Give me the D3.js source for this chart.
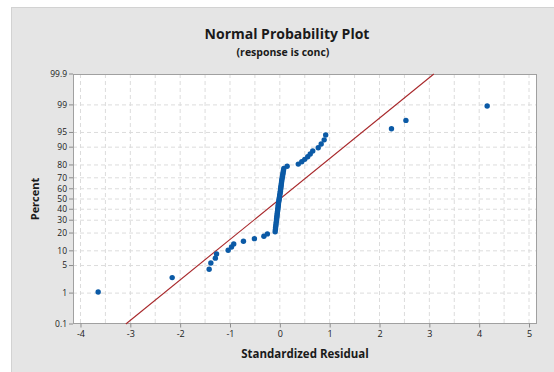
<!DOCTYPE html>
<html>
<head>
<meta charset="utf-8">
<script src="https://cdn.jsdelivr.net/npm/d3@7"></script>
<style>
  body{margin:0;background:#fff;}
  svg{display:block;font-family:"Open Sans",sans-serif;}
</style>
</head>
<body>
<script>
// standardized residuals, sorted
var residuals=[-3.645,-2.16,-1.418,-1.384,-1.294,-1.27,-1.037,-0.97,-0.925,-0.73,-0.51,-0.32,-0.25,
  -0.094,-0.089,-0.085,-0.080,-0.076,-0.071,-0.067,-0.063,-0.059,-0.055,-0.051,-0.047,-0.043,-0.039,
  -0.035,-0.031,-0.028,-0.023,-0.018,-0.013,-0.008,-0.004,0.001,0.007,0.011,0.015,0.019,0.023,0.028,
  0.032,0.036,0.040,0.047,0.053,0.060,0.066,0.073,0.080,
  0.147,0.37,0.44,0.50,0.56,0.61,0.66,0.77,0.83,0.89,0.92,2.24,2.53,4.16];
// plotting percents for each point
var percents=[1.07,2.60,4.13,5.66,7.19,8.72,10.24,11.77,13.30,14.83,16.36,17.89,19.42,20.95,22.48,
  24.01,25.54,27.06,28.59,30.12,31.65,33.18,34.71,36.24,37.77,39.30,40.83,42.35,43.88,45.41,46.94,
  48.47,50.00,51.53,53.06,54.59,56.12,57.65,59.17,60.70,62.23,63.76,65.29,66.82,68.35,69.88,71.41,
  72.94,74.46,75.99,77.52,79.05,80.58,82.11,83.64,85.17,86.70,88.23,89.76,91.28,92.81,94.34,95.87,
  97.40,98.93];
var yTicks=[0.1,1,5,10,20,30,40,50,60,70,80,90,95,99,99.9];
var xTicks=[-4,-3,-2,-1,0,1,2,3,4,5];
var xGrid=[-4,-3.5,-3,-2.5,-2,-1.5,-1,-0.5,0,0.5,1,1.5,2,2.5,3,3.5,4,4.5,5];
var fitLine=[[-3.09,0.1],[3.09,99.9]];

// inverse normal cdf (Acklam) for the probability axis
function qnorm(p){
  var a=[-39.69683028665376,220.9460984245205,-275.9285104469687,138.3577518672690,-30.66479806614716,2.506628277459239];
  var b=[-54.47609879822406,161.5858368580409,-155.6989798598866,66.80131188771972,-13.28068155288572];
  var c=[-0.007784894002430293,-0.3223964580411365,-2.400758277161838,-2.549732539343734,4.374664141464968,2.938163982698783];
  var d=[0.007784695709041462,0.3224671290700398,2.445134137142996,3.754408661907416];
  var q,r;
  if(p<0.02425){
    q=Math.sqrt(-2*Math.log(p));
    return (((((c[0]*q+c[1])*q+c[2])*q+c[3])*q+c[4])*q+c[5])/((((d[0]*q+d[1])*q+d[2])*q+d[3])*q+1);
  }else if(p>1-0.02425){
    q=Math.sqrt(-2*Math.log(1-p));
    return -(((((c[0]*q+c[1])*q+c[2])*q+c[3])*q+c[4])*q+c[5])/((((d[0]*q+d[1])*q+d[2])*q+d[3])*q+1);
  }
  q=p-0.5;r=q*q;
  return (((((a[0]*r+a[1])*r+a[2])*r+a[3])*r+a[4])*r+a[5])*q/(((((b[0]*r+b[1])*r+b[2])*r+b[3])*r+b[4])*r+1);
}

var width=554,height=372;
var pLeft=73,pRight=537,pTop=74,pBottom=324;

var svg=d3.select('body').append('svg')
  .attr('width',width).attr('height',height);

svg.append('rect')
  .attr('x',11.5).attr('y',7.5).attr('width',width-11).attr('height',height-7)
  .attr('fill','#e5e5e5').attr('stroke','#d2d2d2');

svg.append('rect')
  .attr('x',pLeft).attr('y',pTop).attr('width',pRight-pLeft).attr('height',pBottom-pTop)
  .attr('fill','#fff');

var xScale=d3.scaleLinear().domain([-4.15,5.16]).range([pLeft,pRight]);
var zScale=d3.scaleLinear().domain([qnorm(0.001),qnorm(0.999)]).range([pBottom,pTop]);
function yPos(pct){return zScale(qnorm(pct/100));}

// grid
svg.append('g').selectAll('line').data(xGrid).enter().append('line')
  .attr('x1',d=>xScale(d)).attr('x2',d=>xScale(d))
  .attr('y1',pTop).attr('y2',pBottom)
  .attr('stroke','#dcdcdc').attr('stroke-dasharray','4,3');
svg.append('g').selectAll('line').data(yTicks.slice(1,-1)).enter().append('line')
  .attr('x1',pLeft).attr('x2',pRight)
  .attr('y1',d=>yPos(d)).attr('y2',d=>yPos(d))
  .attr('stroke','#dcdcdc').attr('stroke-dasharray','4,3');

svg.append('rect')
  .attr('x',pLeft+0.5).attr('y',pTop+0.5).attr('width',pRight-pLeft-1).attr('height',pBottom-pTop-1)
  .attr('fill','none').attr('stroke','#a0a0a0');

// axes
var xAxis=d3.axisBottom(xScale).tickValues(xTicks).tickSize(4).tickSizeOuter(0).tickFormat(d=>String(d));
var gx=svg.append('g').attr('transform','translate(0,'+(pBottom-0.5)+')').call(xAxis);
gx.select('.domain').remove();
gx.selectAll('line').attr('stroke','#8c8c8c');
gx.selectAll('text').attr('fill','#1a1a1a').style('font-size','9px').style('font-family','"Open Sans",sans-serif');

var gy=svg.append('g');
gy.selectAll('line').data(yTicks).enter().append('line')
  .attr('x1',pLeft-4).attr('x2',pLeft).attr('y1',d=>yPos(d)).attr('y2',d=>yPos(d))
  .attr('stroke','#8c8c8c');
gy.selectAll('text').data(yTicks).enter().append('text')
  .attr('x',pLeft-6).attr('y',d=>yPos(d)).attr('dy','0.33em')
  .attr('text-anchor','end').attr('fill','#1a1a1a').style('font-size','8.5px')
  .text(d=>d);

// fitted line
svg.append('line')
  .attr('x1',xScale(fitLine[0][0])).attr('y1',yPos(fitLine[0][1]))
  .attr('x2',xScale(fitLine[1][0])).attr('y2',yPos(fitLine[1][1]))
  .attr('stroke','#a8282b').attr('stroke-width',1.1);

// points
svg.append('g').selectAll('circle').data(residuals).enter().append('circle')
  .attr('cx',d=>xScale(d)).attr('cy',(d,i)=>yPos(percents[i]))
  .attr('r',2.7).attr('fill','#0b5aa6');

// titles
svg.append('text').attr('x',287).attr('y',39).attr('text-anchor','middle')
  .style('font-size','14px').style('font-weight','bold').attr('fill','#1a1a1a')
  .text('Normal Probability Plot');
svg.append('text').attr('x',283).attr('y',56).attr('text-anchor','middle')
  .style('font-size','10.5px').style('font-weight','bold').attr('fill','#1a1a1a')
  .text('(response is conc)');
svg.append('text').attr('x',(pLeft+pRight)/2).attr('y',358).attr('text-anchor','middle')
  .style('font-size','11.5px').style('font-weight','bold').attr('fill','#1a1a1a')
  .text('Standardized Residual');
svg.append('text').attr('transform','translate(39,199) rotate(-90)').attr('text-anchor','middle')
  .style('font-size','11px').style('font-weight','bold').attr('fill','#1a1a1a')
  .text('Percent');
</script>
</body>
</html>
